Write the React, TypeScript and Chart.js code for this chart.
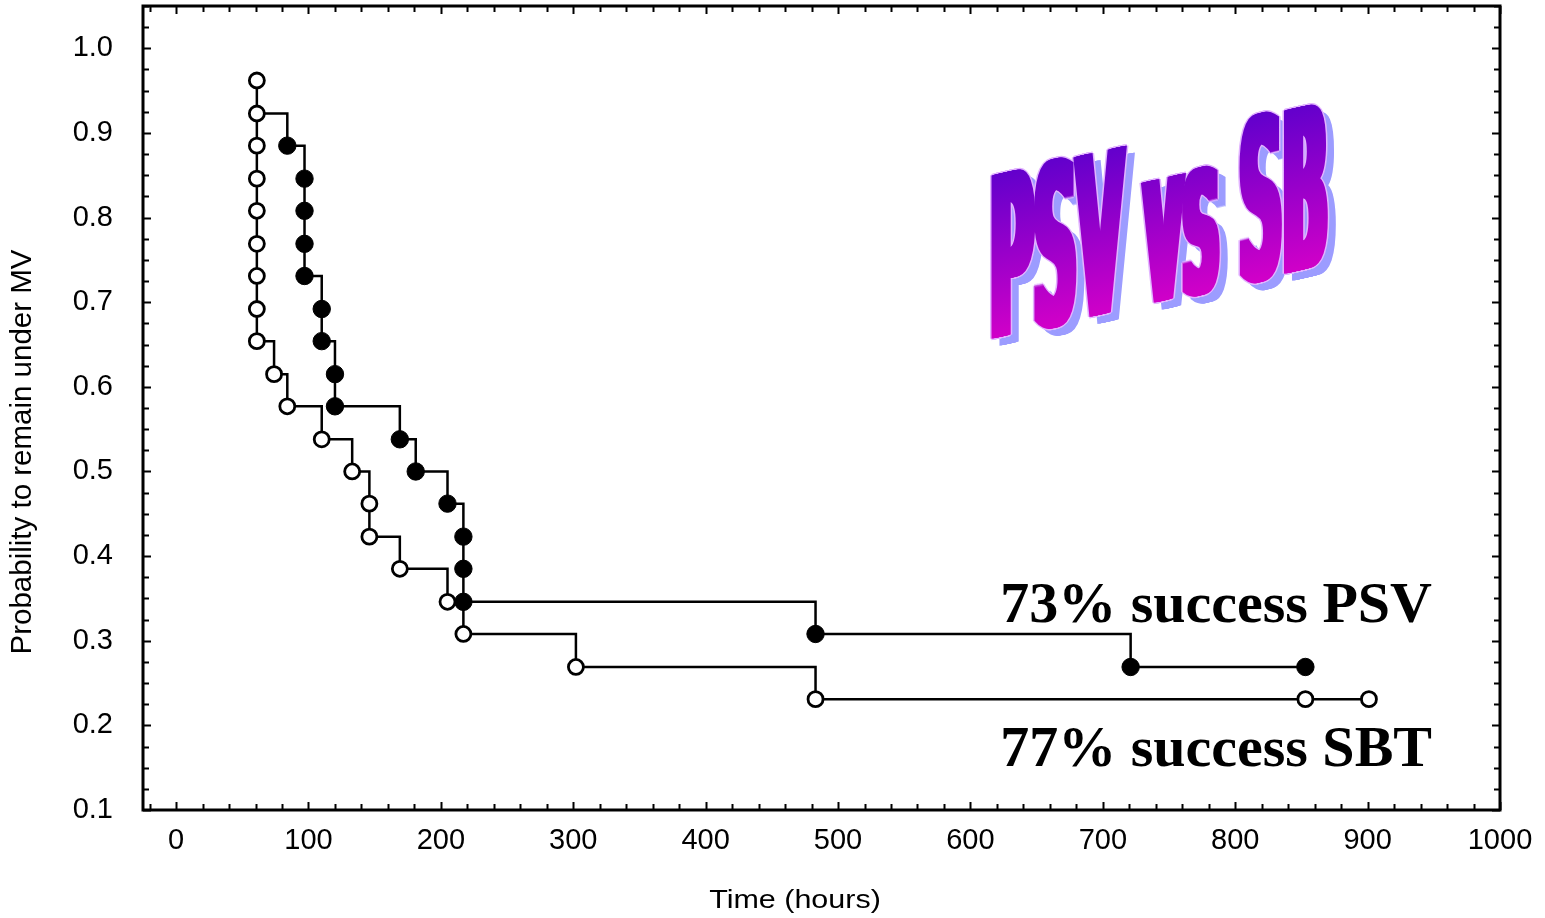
import React, { useEffect, useRef } from "react";
import { Chart, registerables } from "chart.js";

Chart.register(...registerables);

// ---- Data ----
const SBT_TIME = [61, 61, 61, 61, 61, 61, 61, 61, 61, 74, 84, 110, 133, 146, 146, 169, 205, 217, 302, 483, 853, 901];
const SBT_PROB = [0.962, 0.923, 0.885, 0.846, 0.808, 0.769, 0.731, 0.692, 0.654, 0.615, 0.577, 0.538, 0.5, 0.462, 0.423, 0.385, 0.346, 0.308, 0.269, 0.231, 0.231, 0.231];

const PSV_TIME = [61, 84, 97, 97, 97, 97, 110, 110, 120, 120, 169, 181, 205, 217, 217, 217, 483, 721, 853];
const PSV_PROB = [0.923, 0.885, 0.846, 0.808, 0.769, 0.731, 0.692, 0.654, 0.615, 0.577, 0.538, 0.5, 0.462, 0.423, 0.385, 0.346, 0.308, 0.269, 0.269];

const X_MIN = -25;
const X_MAX = 1000;
const X_STEP = 100;
const X_MINOR = 20;
const Y_MIN = 0.1;
const Y_MAX = 1.05;
const Y_STEP = 0.1;
const Y_MINOR = 0.025;

const X_TITLE = "Time (hours)";
const Y_TITLE = "Probability to remain under MV";
const NOTE_PSV = "73% success PSV";
const NOTE_SBT = "77% success SBT";
const WORDART = "PSV vs SB";

const SANS = "'Liberation Sans', Arial, sans-serif";
const SERIF = "'Liberation Serif', 'Times New Roman', serif";

const decorPlugin = {
  id: "decor",
  afterDatasetsDraw(chart: any) {
    const { ctx, chartArea } = chart;
    const { left, right, top, bottom } = chartArea;
    const xs = chart.scales.x;
    const ys = chart.scales.y;
    ctx.save();
    ctx.strokeStyle = "#000";
    ctx.lineWidth = 2;
    const eps = 1e-6;
    for (let v = Math.ceil(X_MIN / X_MINOR) * X_MINOR; v <= X_MAX + eps; v += X_MINOR) {
      const px = Math.round(xs.getPixelForValue(v)) + 0.5;
      const major = Math.abs(v / X_STEP - Math.round(v / X_STEP)) < eps;
      const len = major ? 8 : 6;
      ctx.beginPath();
      ctx.moveTo(px, bottom);
      ctx.lineTo(px, bottom - len);
      ctx.moveTo(px, top);
      ctx.lineTo(px, top + len);
      ctx.stroke();
    }
    for (let i = 0; ; i++) {
      const v = Y_MIN + i * Y_MINOR;
      if (v > Y_MAX + eps) break;
      const py = Math.round(ys.getPixelForValue(v)) + 0.5;
      const major = i % 4 === 0;
      const len = major ? 8 : 6;
      ctx.beginPath();
      ctx.moveTo(left, py);
      ctx.lineTo(left + len, py);
      ctx.moveTo(right, py);
      ctx.lineTo(right - len, py);
      ctx.stroke();
    }
    ctx.lineWidth = 3;
    ctx.strokeRect(left, top, right - left, bottom - top);
    ctx.restore();
  },
  afterDraw(chart: any) {
    const { ctx } = chart;
    ctx.save();
    ctx.fillStyle = "#000";
    // x title (horizontally stretched like the reference)
    ctx.save();
    ctx.font = `25px ${SANS}`;
    ctx.textAlign = "center";
    ctx.textBaseline = "alphabetic";
    ctx.translate(795, 908);
    ctx.scale(1.22, 1);
    ctx.fillText(X_TITLE, 0, 0);
    ctx.restore();
    // y title
    ctx.save();
    ctx.font = `29.5px ${SANS}`;
    ctx.textAlign = "center";
    ctx.textBaseline = "middle";
    ctx.translate(23, 452);
    ctx.rotate(-Math.PI / 2);
    ctx.fillText(Y_TITLE, 0, 0);
    ctx.restore();
    // notes
    ctx.font = `bold 58px ${SERIF}`;
    ctx.textAlign = "right";
    ctx.textBaseline = "alphabetic";
    ctx.fillText(NOTE_PSV, 1432, 622);
    ctx.fillText(NOTE_SBT, 1432, 766);

    // WordArt title
    const F = 224;
    ctx.font = `bold ${F}px 'DejaVu Sans'`;
    ctx.textAlign = "left";
    ctx.textBaseline = "alphabetic";
    const w = ctx.measureText(WORDART).width;
    const targetW = 338;
    const sx = targetW / w;
    const shear = -0.222;
    const ox = 986;
    const oy = 340;
    const thick = 8;
    const layer = (style: any, dx: number, dy: number) => {
      ctx.save();
      ctx.translate(ox + dx, oy + dy);
      ctx.transform(1, shear, 0, 1, 0, 0);
      ctx.scale(sx, 1);
      ctx.fillStyle = typeof style === "function" ? style() : style;
      for (let i = 0; i <= thick; i++) {
        ctx.fillText(WORDART, i / sx, 0);
      }
      ctx.restore();
    };
    layer("#9c9cff", 8, 7);
    for (const [dx, dy] of [[-1.5, 0], [1.5, 0], [0, -1.5], [0, 1.5]]) {
      layer("#e2b4ff", dx, dy);
    }
    layer(() => {
      const g = ctx.createLinearGradient(0, -165, 0, 0);
      g.addColorStop(0, "#6200cc");
      g.addColorStop(1, "#d000c8");
      return g;
    }, 0, 0);
    ctx.restore();
  },
};

export default function App() {
  const ref = useRef<HTMLCanvasElement | null>(null);

  useEffect(() => {
    if (!ref.current) return;
    const sbt = SBT_TIME.map((t, i) => ({ x: t, y: SBT_PROB[i] }));
    const psv = PSV_TIME.map((t, i) => ({ x: t, y: PSV_PROB[i] }));
    const chart = new Chart(ref.current, {
      type: "scatter",
      data: {
        datasets: [
          {
            label: "SBT",
            data: sbt,
            showLine: true,
            stepped: "before",
            borderColor: "#000",
            borderWidth: 2.5,
            pointRadius: 7.5,
            pointBorderWidth: 2.8,
            pointBackgroundColor: "#fff",
            pointBorderColor: "#000",
            order: 0,
          },
          {
            label: "PSV",
            data: psv,
            showLine: true,
            stepped: "before",
            borderColor: "#000",
            borderWidth: 2.5,
            pointRadius: psv.map((_, i) => (i === 0 ? 0 : 8.7)),
            pointBorderWidth: 1,
            pointBackgroundColor: "#000",
            pointBorderColor: "#000",
            order: 1,
          },
        ],
      },
      options: {
        responsive: false,
        animation: false,
        devicePixelRatio: 1,
        layout: { autoPadding: false, padding: { left: 0, top: 6, right: 45, bottom: 0 } },
        plugins: {
          legend: { display: false },
          tooltip: { enabled: false },
          title: { display: false },
        },
        scales: {
          x: {
            type: "linear",
            position: "bottom",
            min: X_MIN,
            max: X_MAX,
            grid: { display: false, drawTicks: false },
            border: { display: false },
            ticks: {
              stepSize: X_STEP,
              includeBounds: false,
              color: "#000",
              padding: 14,
              maxRotation: 0,
              autoSkip: false,
              font: { family: SANS, size: 29 },
              callback: (v: any) => String(v),
            },
            afterFit: (s: any) => {
              s.height = 108;
              s.paddingLeft = 0;
              s.paddingRight = 0;
            },
          },
          y: {
            type: "linear",
            min: Y_MIN,
            max: Y_MAX,
            grid: { display: false, drawTicks: false },
            border: { display: false },
            ticks: {
              stepSize: Y_STEP,
              includeBounds: false,
              color: "#000",
              padding: 30,
              autoSkip: false,
              font: { family: SANS, size: 29 },
              callback: (v: any) => Number(v).toFixed(1),
            },
            afterFit: (s: any) => {
              s.width = 143;
              s.paddingTop = 0;
              s.paddingBottom = 0;
            },
          },
        },
      },
      plugins: [decorPlugin],
    } as any);
    return () => chart.destroy();
  }, []);

  return (
    <div style={{ position: "absolute", left: 0, top: 0, width: 1545, height: 918, background: "#fff" }}>
      <canvas ref={ref} width={1545} height={918} style={{ display: "block" }} />
    </div>
  );
}
